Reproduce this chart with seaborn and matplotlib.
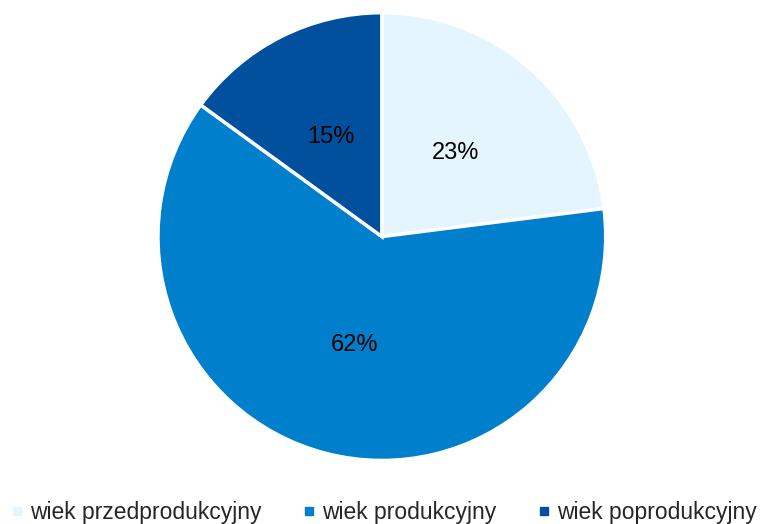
import matplotlib
matplotlib.use("Agg")
import matplotlib.pyplot as plt
import seaborn as sns
from matplotlib.lines import Line2D

# Data
labels = ['wiek przedprodukcyjny', 'wiek produkcyjny', 'wiek poprodukcyjny']
shares = [23, 62, 15]
colors = ['#E5F5FD', '#0080CC', '#00509E']

sns.set_theme(style="white")
plt.rcParams['font.family'] = ['Liberation Sans', 'DejaVu Sans']

fig = plt.figure(figsize=(7.68, 5.24), dpi=100)
ax = fig.add_axes([0.2057, 0.121, 0.583, 0.855])

palette = sns.color_palette(colors)
ax.pie(shares, colors=palette, startangle=90, counterclock=False,
       autopct='%1.0f%%', pctdistance=0.5,
       wedgeprops=dict(edgecolor='white', linewidth=2.5),
       textprops=dict(fontsize=17, color='black'))
ax.set_xlim(-1, 1)
ax.set_ylim(-1, 1)
ax.set_aspect('equal')

handles = [Line2D([0], [0], marker='s', linestyle='none', markersize=6,
                  markerfacecolor=c, markeredgecolor=c) for c in palette]
fig.legend(handles, labels, loc='lower center', ncol=3, frameon=False,
           fontsize=16.5, handletextpad=0.35, columnspacing=1.8,
           bbox_to_anchor=(0.5, -0.018), handlelength=0.5,
           borderpad=0.2, borderaxespad=0.2)

fig.savefig("out.png", dpi=100)
